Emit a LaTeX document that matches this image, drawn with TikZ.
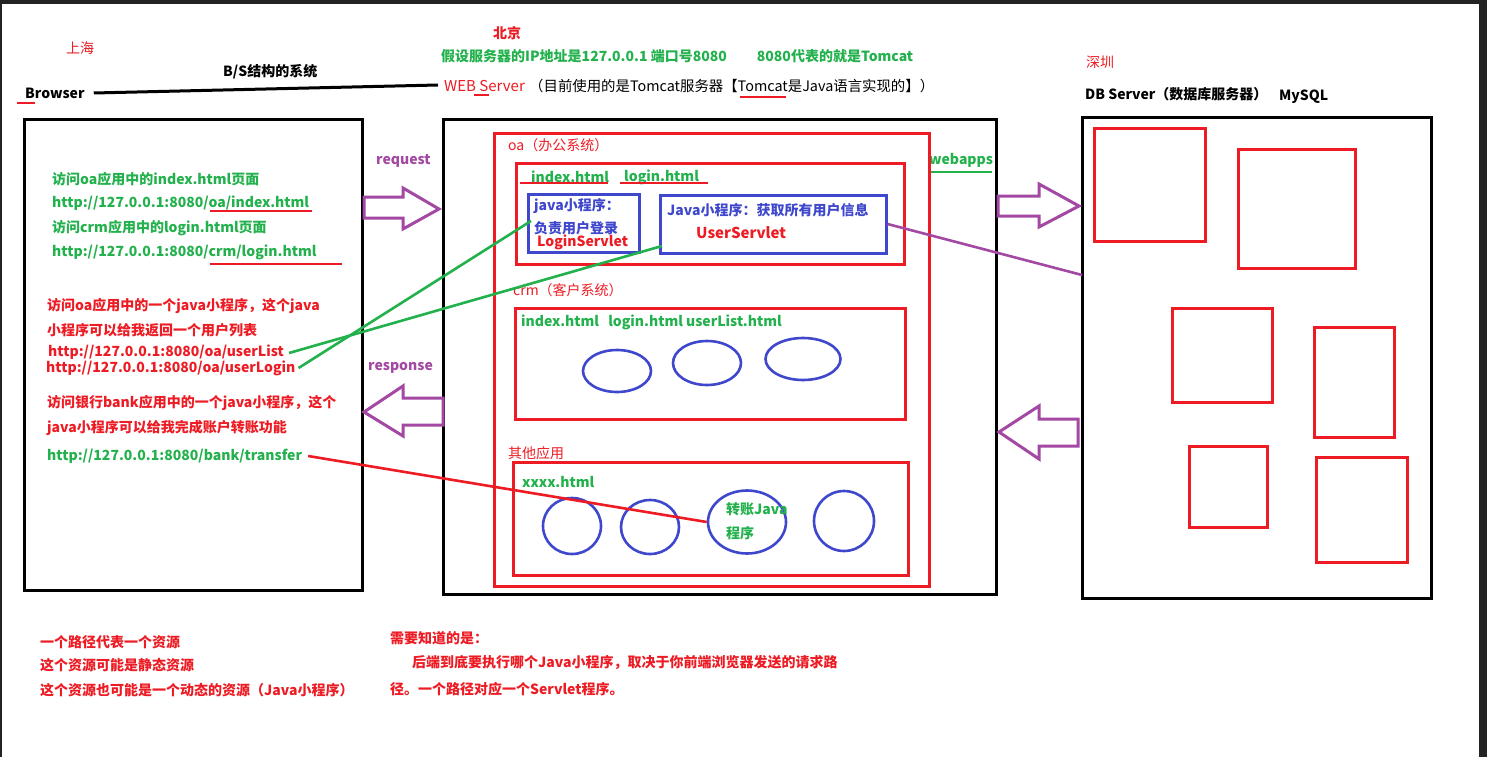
\documentclass[tikz,border=0pt]{standalone}
\usepackage{fontspec}
\setmainfont{Noto Sans CJK SC}
\usetikzlibrary{fit,shapes.geometric}
\definecolor{pRed}{HTML}{ED1C24}
\definecolor{pGreen}{HTML}{22B14C}
\definecolor{pBlue}{HTML}{3F48CC}
\definecolor{pPurple}{HTML}{A349A4}
\definecolor{edge}{HTML}{232323}

\tikzset{
  txt/.style={anchor=west, inner sep=0pt, font=\fontsize{14}{16}\selectfont},
  btxt/.style={txt, font=\fontsize{14}{16}\selectfont\bfseries},
  blackbox/.style={draw=black, line width=3pt, inner sep=0pt, fit={#1}},
  redbox/.style={draw=pRed, line width=3pt, inner sep=0pt, fit={#1}},
  bluebox/.style={draw=pBlue, line width=3pt, inner sep=0pt, fit={#1}},
  oval/.style={draw=pBlue, line width=2.6pt, ellipse, inner sep=0pt},
  fatarrow/.style={draw=pPurple, line width=3pt, line join=miter},
  redmark/.style={draw=pRed, line width=2.6pt},
}

\begin{document}
\begin{tikzpicture}[x=1pt, y=-1pt]
\useasboundingbox (0,0) rectangle (1487,757);
\fill[white] (0,0) rectangle (1487,757);
\fill[edge] (0,0) rectangle (1487,4);
\fill[edge] (0,0) rectangle (2,757);
\fill[edge] (1479,0) rectangle (1487,757);

% titles
\node[txt, text=pRed]  (sh)    at (66,48)   {上海};
\node[btxt, text=pRed] (bj)    at (493,33)  {北京};
\node[btxt, text=pGreen] (ipnote) at (441,56)
  {假设服务器的IP地址是127.0.0.1 端口号8080\hspace{30pt}8080代表的就是Tomcat};
\node[btxt] (bs)      at (223,72) {B/S结构的系统};
\node[btxt] (brTitle) at (25,93)  {Browser};
\node[txt, text=pRed, font=\fontsize{15}{17}\selectfont] (web) at (444,86) {WEB Server};
\node[txt, font=\fontsize{14.4}{17}\selectfont] (webNote) at (529,86)
  {（目前使用的是Tomcat服务器【Tomcat是Java语言实现的】）};
\node[txt, text=pRed] (sz)      at (1086,62) {深圳};
\node[btxt] (dbTitle) at (1085,94) {DB Server（数据库服务器）};
\node[btxt] (mysql)   at (1279,97) {MySQL};

\draw[line width=3pt] ([xshift=9pt]brTitle.east) -- ([xshift=-6pt,yshift=1pt]web.west);
\draw[redmark] (17,103) -- (35,103);
\draw[redmark] (474,95) -- (489,95);
\draw[redmark] (740,97) -- (786,97);

% the three machines
\node[blackbox={(24,120)(362,590)}]   (browser) {};
\node[blackbox={(443,120)(996,594)}]  (server)  {};
\node[blackbox={(1082,118)(1431,598)}] (db)     {};

% browser side
\node[btxt, text=pGreen] (q1) at (52,179) {访问oa应用中的index.html页面};
\node[btxt, text=pGreen] (u1) at (52,203) {http://127.0.0.1:8080/oa/index.html};
\node[btxt, text=pGreen] (q2) at (52,228) {访问crm应用中的login.html页面};
\node[btxt, text=pGreen] (u2) at (52,252) {http://127.0.0.1:8080/crm/login.html};
\draw[redmark] (210,211) -- (312,211);
\draw[redmark] (210,264) -- (342,264);
\node[btxt, text=pRed] (q3)  at (47,306) {访问oa应用中的一个java小程序，这个java};
\node[btxt, text=pRed] (q3b) at (47,330) {小程序可以给我返回一个用户列表};
\node[btxt, text=pRed] (userList)  at (48,352) {http://127.0.0.1:8080/oa/userList};
\node[btxt, text=pRed] (userLogin) at (46,368) {http://127.0.0.1:8080/oa/userLogin};
\node[btxt, text=pRed] (q4)  at (47,403) {访问银行bank应用中的一个java小程序，这个};
\node[btxt, text=pRed] (q4b) at (47,428) {java小程序可以给我完成账户转账功能};
\node[btxt, text=pGreen] (transfer) at (47,456) {http://127.0.0.1:8080/bank/transfer};

% request / response
\node[btxt, text=pPurple] (req)  at (376,161) {request};
\node[btxt, text=pPurple] (resp) at (368,368) {response};
\draw[fatarrow] (364,197) -- (403,197) -- (403,188) -- (439,209)
  -- (403,229) -- (403,218) -- (364,218) -- cycle;
\draw[fatarrow] (364,412) -- (403,386) -- (403,398) -- (443,398)
  -- (443,425) -- (403,425) -- (403,436) -- cycle;

% web server
\node[btxt, text=pGreen] (webapps) at (929,160) {webapps};
\draw[draw=pGreen, line width=2.6pt] (929,172) -- (992,172);
\node[redbox={(494,133)(929,586)}] (oaApp) {};
\node[txt, text=pRed] (oaTxt) at (508,145) {oa（办公系统）};
\node[redbox={(516,163)(904,264)}] (oaBox) {};
\node[btxt, text=pGreen] (oaIndex) at (531,177) {index.html};
\node[btxt, text=pGreen] (oaLogin) at (624,177) {login.html};
\draw[redmark] (520,183) -- (608,183);
\draw[redmark] (620,183) -- (708,183);
\node[bluebox={(528,194)(639,252)}] (loginbox) {};
\node[btxt, text=pBlue] at (534,206) {java小程序：};
\node[txt, text=pBlue, font=\fontsize{14}{16}\selectfont\bfseries] at (534,228) {负责用户登录};
\node[btxt, text=pRed] (loginServ) at (537,242) {LoginServlet};
\node[bluebox={(660,195)(886,253)}] (userbox) {};
\node[btxt, text=pBlue] at (667,210) {Java小程序：获取所有用户信息};
\node[btxt, text=pRed, font=\fontsize{15}{17}\selectfont\bfseries] (userServ) at (696,233) {UserServlet};

\node[txt, text=pRed] (crmTxt) at (513,290) {crm（客户系统）};
\node[redbox={(515,308)(905,419)}] (crmBox) {};
\node[btxt, text=pGreen] at (521,322) {index.html\hspace{6pt} login.html userList.html};
\node[oval, minimum width=68, minimum height=42] (c1) at (617,371) {};
\node[oval, minimum width=68, minimum height=44] (c2) at (707,363) {};
\node[oval, minimum width=75, minimum height=42] (c3) at (803,359) {};

\node[txt, text=pRed] (otherTxt) at (508,453) {其他应用};
\node[redbox={(513,462)(908,575)}] (otherBox) {};
\node[btxt, text=pGreen] at (522,482) {xxxx.html};
\node[oval, minimum width=58, minimum height=56] (d1) at (572,526) {};
\node[oval, minimum width=58, minimum height=54] (d2) at (650,527) {};
\node[oval, minimum width=78, minimum height=63] (transferJava) at (747,522) {};
\node[oval, minimum width=60, minimum height=60] (d4) at (844,521) {};
\node[btxt, text=pGreen] at (726,509) {转账Java};
\node[btxt, text=pGreen] at (726,533) {程序};

% database server
\node[redbox={(1094,128)(1205,241)}] (t1) {};
\node[redbox={(1238,149)(1355,268)}] (t2) {};
\node[redbox={(1172,308)(1272,402)}] (t3) {};
\node[redbox={(1314,327)(1394,437)}] (t4) {};
\node[redbox={(1189,446)(1267,527)}] (t5) {};
\node[redbox={(1316,457)(1407,562)}] (t6) {};
\draw[fatarrow] (998,196) -- (1039,196) -- (1039,184) -- (1079,206)
  -- (1039,227) -- (1039,216) -- (998,216) -- cycle;
\draw[fatarrow] (999,432) -- (1039,406) -- (1039,419) -- (1078,419)
  -- (1078,446) -- (1039,446) -- (1039,459) -- cycle;

% connectors
\coordinate (listEnd)  at (662,246);
\coordinate (loginEnd) at (531,221);
\coordinate (dbIn)     at (1082,275);
\draw[pGreen, line width=2.6pt] ([xshift=5pt,yshift=-1pt]userList.east) -- (listEnd);
\draw[pGreen, line width=2.6pt] ([xshift=3pt]userLogin.east) -- (loginEnd);
\draw[pRed, line width=2.6pt] ([xshift=6pt]transfer.east) -- (transferJava.west);
\draw[pPurple, line width=2.6pt] (userbox.east) -- (dbIn);

% notes
\node[btxt, text=pRed] (n1) at (40,642) {一个路径代表一个资源};
\node[btxt, text=pRed] (n2) at (40,665) {这个资源可能是静态资源};
\node[btxt, text=pRed] (n3) at (40,690) {这个资源也可能是一个动态的资源（Java小程序）};
\node[btxt, text=pRed] (m1) at (390,638) {需要知道的是：};
\node[btxt, text=pRed] (m2) at (412,663) {后端到底要执行哪个Java小程序，取决于你前端浏览器发送的请求路};
\node[btxt, text=pRed] (m3) at (390,689) {径。一个路径对应一个Servlet程序。};
\end{tikzpicture}
\end{document}
